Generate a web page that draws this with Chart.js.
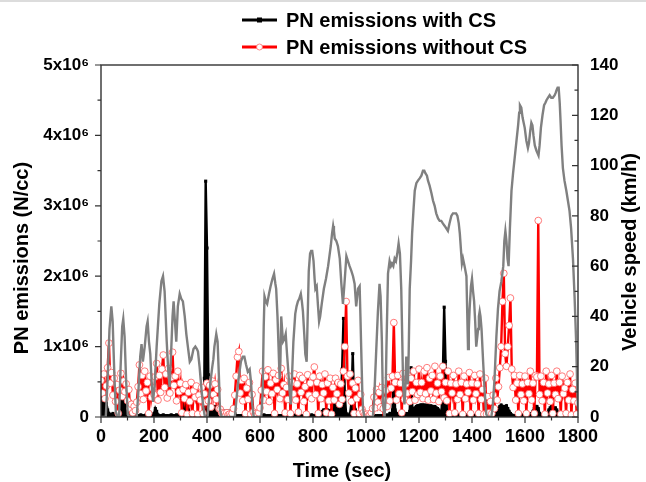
<!DOCTYPE html>
<html>
<head>
<meta charset="utf-8">
<title>PN emissions and vehicle speed</title>
<script src="https://cdn.jsdelivr.net/npm/chart.js@4.4.0/dist/chart.umd.min.js"></script>
<style>
  html, body { margin: 0; padding: 0; background: #ffffff; }
  #wrap { position: relative; width: 646px; height: 482px; }
</style>
</head>
<body>
<div id="wrap"><canvas id="chart" width="646" height="482"></canvas></div>
<script>
// vehicle speed trace (sec, km/h)
const speedTime = [
  0, 18, 25, 32, 39, 44, 50, 56, 62, 68,
  74, 80, 84, 89, 95, 101, 108, 135, 142, 148,
  153, 158, 165, 172, 176, 181, 186, 191, 196, 202,
  210, 220, 228, 234, 240, 248, 254, 259, 264, 270,
  274, 279, 284, 290, 297, 303, 309, 316, 322, 329,
  335, 341, 349, 356, 362, 366, 372, 380, 386, 392,
  402, 407, 413, 420, 424, 428, 435, 440, 445, 449,
  455, 505, 512, 520, 528, 535, 541, 547, 554, 561,
  566, 571, 576, 605, 610, 614, 617, 622, 627, 634,
  640, 647, 653, 658, 661, 666, 670, 674, 677, 680,
  684, 687, 692, 697, 702, 707, 712, 716, 720, 726,
  733, 738, 743, 748, 754, 758, 762, 767, 771, 776,
  780, 784, 789, 793, 797, 802, 806, 809, 814, 819,
  823, 827, 833, 841, 849, 857, 862, 867, 872, 876,
  879, 882, 888, 894, 901, 907, 913, 918, 926, 932,
  938, 945, 951, 957, 963, 967, 970, 976, 979, 982,
  986, 989, 994, 1026, 1032, 1038, 1045, 1051, 1055, 1060,
  1064, 1070, 1074, 1077, 1083, 1089, 1094, 1098, 1103, 1108,
  1113, 1118, 1123, 1128, 1133, 1137, 1140, 1145, 1148, 1152,
  1155, 1158, 1161, 1165, 1170, 1174, 1179, 1184, 1190, 1196,
  1203, 1209, 1215, 1220, 1224, 1230, 1234, 1240, 1247, 1253,
  1259, 1265, 1272, 1278, 1284, 1290, 1297, 1303, 1309, 1315,
  1322, 1328, 1335, 1340, 1345, 1350, 1354, 1358, 1362, 1366,
  1372, 1379, 1385, 1388, 1391, 1396, 1400, 1404, 1408, 1412,
  1416, 1420, 1423, 1426, 1429, 1432, 1436, 1442, 1448, 1454,
  1460, 1473, 1478, 1485, 1492, 1498, 1504, 1511, 1518, 1522,
  1526, 1530, 1534, 1538, 1543, 1549, 1555, 1561, 1568, 1574,
  1578, 1581, 1586, 1591, 1599, 1605, 1611, 1615, 1620, 1624,
  1628, 1632, 1637, 1643, 1647, 1651, 1655, 1660, 1666, 1672,
  1677, 1681, 1687, 1693, 1699, 1705, 1712, 1716, 1719, 1723,
  1727, 1731, 1734, 1738, 1743, 1749, 1756, 1762, 1768, 1774,
  1781, 1787, 1793, 1797, 1800
];
const speedKmh = [
  0, 0, 15, 35, 44, 38, 18, 2, 0, 0,
  20, 36, 39, 32, 14, 1, 0, 0, 12, 24,
  29, 22, 28, 36, 38, 30, 25, 14, 6, 12,
  28, 45, 54, 56, 50, 30, 18, 12, 24, 40,
  46, 38, 30, 44, 49, 47, 46, 40, 33, 27,
  22, 23, 27, 28, 27, 26, 20, 10, 4, 0,
  0, 6, 14, 20, 23, 28, 33, 30, 16, 3,
  0, 0, 8, 16, 22, 24, 24, 21, 18, 19,
  14, 5, 0, 0, 10, 36, 48, 46, 45, 49,
  52, 55, 57, 53, 51, 40, 28, 15, 22, 40,
  34, 30, 31, 33, 25, 18, 10, 5, 14, 30,
  41, 44, 46, 47, 49, 46, 42, 33, 25, 22,
  40, 58, 65, 66, 66, 62, 55, 51, 52, 44,
  38, 40, 45, 51, 55, 60, 64, 68, 73, 76,
  74, 71, 70, 68, 63, 53, 45, 52, 64, 62,
  60, 58, 56, 53, 44, 48, 51, 52, 40, 27,
  10, 3, 0, 0, 10, 25, 42, 53, 48, 30,
  5, 0, 8, 27, 57, 62, 60, 61, 60, 63,
  62, 65, 69, 65, 51, 30, 13, 5, 10, 24,
  18, 13, 25, 51, 62, 73, 82, 90, 93, 94,
  95, 96, 98, 98, 97, 96, 94, 92, 89, 86,
  84, 81, 79, 78, 78, 77, 76, 75, 74, 77,
  80, 81, 81, 81, 80, 77, 73, 67, 61, 63,
  60, 56, 27, 35, 43, 52, 55, 50, 46, 38,
  28, 32, 35, 40, 42, 40, 35, 22, 10, 1,
  0, 0, 4, 15, 32, 43, 50, 54, 60, 70,
  74, 70, 63, 60, 75, 90, 97, 103, 110, 116,
  121, 124, 123, 119, 115, 110, 107, 109, 114, 117,
  116, 112, 108, 106, 105, 104, 108, 115, 120, 124,
  125, 126, 127, 128, 127, 127, 128, 129, 130, 131,
  131, 125, 118, 108, 99, 94, 90, 86, 82, 75,
  63, 48, 30, 12, 3
];

// PN samples every 5 s from t = 0, values in units of 1e5 N/cc
const pnStep = 5;
const pnUnit = 1e5;
const pnWithCS = [
  4.8, 4, 3.2, 2.5, 2, 1, 0.5, 0.3, 0.3, 0.5, 0.3, 0.2, 0.5, 2.2, 2.6, 2.8, 2.5, 2.8, 2.6, 2.5,
  2.8, 2.4, 1.8, 0.5, 0.2, 0.1, 0.1, 0.2, 0.1, 0.2, 0.3, 0.2, 0.1, 0.2, 0.3, 0.1, 0.2, 0.1, 0.2, 0.3,
  0.5, 1.2, 0.8, 0.3, 0.2, 0.1, 0.2, 0.3, 0.2, 0.1, 0.2, 0.1, 0.2, 0.3, 0.2, 0.1, 0.2, 0.3, 0.2, 0.1,
  0.2, 0.5, 1.5, 2.2, 2.4, 2, 1, 0.3, 0.2, 0.1, 0.2, 0.1, 0.2, 0.1, 0.2, 0.3, 0.2, 0.3, 5.5, 33.5,
  24, 6, 2, 1.5, 1.2, 1.5, 1.4, 1.5, 1.2, 1, 1, 0.8, 0.8, 0.8, 0.8, 0.8, 0.8, 0.8, 0.8, 0.8,
  0.8, 0.5, 0.2, 0.1, 0.2, 0.1, 0.2, 0.1, 0.2, 0.3, 0.2, 0.1, 0.2, 0.1, 0.2, 0.1, 0.2, 0.1, 0.2, 0.1,
  0.2, 0.1, 0.2, 0.3, 0.2, 0.1, 0.2, 0.1, 0.2, 0.1, 0.2, 0.3, 0.2, 0.1, 0.2, 0.1, 0.2, 0.1, 0.2, 0.1,
  0.2, 0.1, 0.2, 0.1, 0.2, 0.3, 0.2, 0.1, 0.2, 0.1, 0.2, 0.1, 0.2, 0.1, 0.2, 0.1, 0.2, 0.1, 0.2, 0.3,
  0.2, 0.1, 0.2, 0.1, 0.2, 0.3, 0.5, 0.8, 1, 1, 0.8, 1, 0.9, 0.8, 1, 1.2, 2.9, 3, 2.8, 3,
  2.9, 2.5, 6.8, 14, 3, 0.5, 0.3, 0.2, 0.5, 2, 9, 2, 1, 0.5, 0.3, 0.2, 0.1, 0.1, 0.1, 0.1,
  0.1, 0.1, 0.1, 0.1, 0.1, 0.2, 0.1, 0.2, 0.1, 0.2, 0.1, 0.2, 0.1, 0.2, 0.1, 0.2, 0.3, 0.2, 0.5, 0.3,
  1, 5.7, 1, 0.5, 0.3, 0.2, 0.5, 0.4, 0.5, 0.4, 0.5, 0.3, 0.5, 0.8, 7, 1, 1.2, 1.3, 1.5, 1.6,
  1.6, 1.7, 1.7, 1.7, 1.7, 1.6, 1.7, 1.6, 1.5, 1.6, 1.5, 1.4, 1.5, 1.3, 1.2, 1, 0.8, 0.6, 6, 15.6,
  7.9, 1, 0.5, 0.3, 0.2, 0.1, 0.2, 0.1, 0.2, 0.3, 0.2, 0.1, 0.2, 0.1, 0.2, 0.3, 0.2, 0.1, 0.2, 0.1,
  0.2, 0.1, 0.2, 0.3, 0.2, 0.1, 0.2, 0.1, 0.2, 0.1, 0.2, 0.1, 0.2, 0.1, 0.2, 0.1, 0.2, 0.5, 0.8, 1,
  1.2, 1.5, 1.7, 1.5, 1.5, 1.4, 1.6, 1.2, 0.8, 0.5, 0.3, 0.2, 0.1, 0.2, 0.1, 0.2, 0.1, 0.2, 0.3, 0.2,
  0.1, 0.2, 0.1, 0.2, 0.3, 0.5, 0.8, 1.2, 1.5, 1.5, 1.2, 0.5, 0.3, 0.2, 0.1, 0.2, 0.3, 0.5, 1, 1.3,
  1.5, 1.4, 1.2, 1.3, 1, 0.6, 0.3, 0.2, 0.1, 0.2, 0.1, 0.2, 0.1, 0.2, 0.1, 0.2, 0.1, 0.2, 0.1, 0.2,
  0.1
];
const pnWithoutCS = [
  5.2, 3.4, 6.1, 2.6, 4.4, 7, 10.5, 4.8, 6.3, 3.1, 5.5, 2.2, 4.6, 0.5, 3.8, 6.2, 2.9, 5.1, 3.6, 4.7,
  2.3, 3.9, 1.2, 1.8, 0.6, 1.5, 0.9, 2.1, 4.3, 7.4, 3.3, 5.9, 2.5, 6.5, 3.7, 4.9, 0.5, 5.8, 2.8, 4.1,
  3.2, 5.7, 7.6, 2.4, 5.9, 3.5, 6.8, 8.8, 4.2, 6.1, 2.7, 6.9, 3.4, 5.6, 9.2, 4.5, 5.8, 2.3, 6.5, 3.6,
  4.8, 0.6, 3.9, 2.6, 4.6, 0.4, 3.5, 2.2, 4.9, 0.5, 3.7, 2.8, 4.4, 0.4, 3.1, 2.4, 4.2, 0.5, 3.3, 2.1,
  4.8, 2.3, 4.5, 1.4, 5.1, 3.2, 4.7, 2.5, 3.9, 1.2, 1.1, 0.6, 0.3, 0.5, 0.2, 0.6, 0.3, 0.4, 0.2, 0.5,
  1.2, 3.1, 5.8, 8.5, 9.3, 3.4, 5.2, 2.3, 5.5, 0.5, 4.1, 2.5, 4.9, 0.4, 3.2, 0.7, 0.3, 0.5, 0.3, 0.6,
  1.3, 3.8, 6.5, 2.4, 5.7, 3.6, 6.7, 2.2, 4.8, 3.3, 6.2, 0.5, 5.3, 3.9, 5.9, 2.6, 6.9, 3.4, 4.6, 0.6,
  4.2, 2.5, 5.8, 0.5, 4.9, 3.3, 6.1, 2.4, 4.7, 0.7, 5.9, 3.5, 5.5, 2.2, 4.3, 0.4, 6, 3.1, 4.8, 2.6,
  5.7, 7.1, 3.2, 4.9, 0.5, 5.8, 2.6, 4.6, 3.4, 6.1, 0.6, 4.8, 2.3, 5.5, 0.4, 4.2, 2.4, 5.5, 3.3, 4.9,
  1.8, 4.7, 2.5, 6.5, 10, 16.4, 5.8, 3.4, 6.1, 2.2, 4.8, 0.5, 4.1, 2.6, 5.2, 0.5, 3.2, 1.1, 0.6, 0.3,
  0.2, 0.4, 0.2, 0.3, 0.6, 1.2, 2.8, 1.3, 3.9, 2.1, 3.5, 1.4, 4.2, 1.2, 2.4, 3.8, 1.5, 5.6, 2.3, 4.1,
  5.8, 13.4, 4.9, 2.4, 5.9, 3.3, 4.8, 0.6, 6.2, 2.5, 4.7, 3.4, 5.8, 2.2, 5.5, 3.6, 6.5, 2.4, 4.9, 3.2,
  6.8, 3.5, 4.9, 2.6, 6.5, 3.3, 7, 2.4, 5.5, 3.7, 5.9, 2.5, 7.2, 3.4, 4.8, 2.2, 5.8, 3.6, 7.2, 2.7,
  4.9, 2.3, 6.5, 0.5, 4.8, 3.4, 5.9, 0.6, 4.7, 2.5, 6.5, 3.2, 4.9, 0.4, 5.8, 2.6, 4.7, 3.5, 6.3, 0.5,
  4.8, 2.4, 5.9, 3.3, 4.7, 0.5, 6.1, 2.5, 3.9, 0.4, 5.5, 0.4, 2.9, 0.6, 2.2, 0.5, 3.1, 1.2, 5.5, 2.4,
  4.3, 7, 10, 16.4, 20.4, 9, 7.2, 10, 13, 16.9, 6.8, 4.2, 5.9, 2.4, 4.8, 0.5, 5.9, 3.2, 4.7, 2.3,
  5.8, 0.5, 4.9, 3.3, 6.5, 2.4, 4.8, 0.5, 5.9, 5.7, 27.9, 3.2, 5.8, 2.3, 4.9, 0.4, 6.5, 3.4, 4.7, 2.2,
  5.9, 0.5, 4.8, 3.2, 6.5, 2.6, 4.9, 0.4, 5.8, 3.3, 4.1, 0.5, 4.9, 2.4, 6.1, 0.3, 3.9, 2.3, 4.8, 0.4,
  2
];

// tick labels
const timeTicks = [0, 200, 400, 600, 800, 1000, 1200, 1400, 1600, 1800];
const pnTicks = [0, 1, 2, 3, 4, 5];            // x10^6
const speedTicks = [0, 20, 40, 60, 80, 100, 120, 140];

const legendNames = ['PN emissions with CS', 'PN emissions without CS'];

const toPoints = (vals) => vals.map((v, i) => ({ x: i * pnStep, y: v * pnUnit }));
const speedPoints = speedTime.map((t, i) => ({ x: t, y: speedKmh[i] }));

const FONT = '"Liberation Sans", Arial, Helvetica, sans-serif';

// frame, inward/outward ticks, axis titles and the two-row legend
const decorations = {
  id: 'decorations',
  beforeDraw(chart) {
    const ctx = chart.ctx;
    ctx.save();
    ctx.fillStyle = '#dcdcdc';
    ctx.fillRect(0, 0, chart.width, 2);
    ctx.restore();
  },
  afterDraw(chart) {
    const { ctx, chartArea: a, scales } = chart;
    ctx.save();

    ctx.strokeStyle = '#333333';
    ctx.lineWidth = 1.4;
    ctx.strokeRect(a.left, a.top, a.right - a.left, a.bottom - a.top);

    ctx.lineWidth = 1.2;
    ctx.beginPath();
    for (let v = 0; v <= 1800; v += 100) {
      const px = scales.x.getPixelForValue(v);
      const len = timeTicks.includes(v) ? 6 : 3.5;
      ctx.moveTo(px, a.bottom);
      ctx.lineTo(px, a.bottom + len);
    }
    for (let v = 0; v <= 5; v += 0.5) {
      const py = scales.y.getPixelForValue(v * 1e6);
      const len = pnTicks.includes(v) ? 6 : 3.5;
      ctx.moveTo(a.left, py);
      ctx.lineTo(a.left - len, py);
    }
    for (let v = 0; v <= 140; v += 10) {
      const py = scales.y1.getPixelForValue(v);
      const len = speedTicks.includes(v) ? 6 : 3.5;
      ctx.moveTo(a.right, py);
      ctx.lineTo(a.right - len, py);
    }
    ctx.stroke();

    // axis titles
    ctx.fillStyle = '#000000';
    ctx.font = 'bold 20px ' + FONT;
    ctx.textAlign = 'center';
    ctx.textBaseline = 'middle';
    ctx.fillText('Time (sec)', 342, 471);

    ctx.save();
    ctx.translate(22, 258);
    ctx.rotate(-Math.PI / 2);
    ctx.fillText('PN emissions (N/cc)', 0, 0);
    ctx.restore();

    ctx.save();
    ctx.translate(630, 252);
    ctx.rotate(-Math.PI / 2);
    ctx.fillText('Vehicle speed (km/h)', 0, 0);
    ctx.restore();

    // legend
    const rows = [20, 47];
    ctx.textAlign = 'left';
    rows.forEach((y, i) => {
      ctx.beginPath();
      ctx.lineWidth = 3;
      ctx.strokeStyle = i === 0 ? '#000000' : '#ff0000';
      ctx.moveTo(242, y);
      ctx.lineTo(277, y);
      ctx.stroke();
      if (i === 0) {
        ctx.fillStyle = '#000000';
        ctx.fillRect(257, y - 2.5, 5, 5);
      } else {
        ctx.beginPath();
        ctx.fillStyle = '#ffffff';
        ctx.strokeStyle = '#ff6a6a';
        ctx.lineWidth = 0.8;
        ctx.arc(259.5, y, 3, 0, Math.PI * 2);
        ctx.fill();
        ctx.stroke();
      }
      ctx.fillStyle = '#000000';
      ctx.fillText(legendNames[i], 286, y + 1);
    });

    ctx.restore();
  }
};

const tickFont = { family: FONT, size: 17, weight: 'bold' };

new Chart(document.getElementById('chart'), {
  type: 'line',
  data: {
    datasets: [
      {
        label: legendNames[0],
        data: toPoints(pnWithCS),
        yAxisID: 'y',
        borderColor: '#000000',
        backgroundColor: '#000000',
        fill: 'origin',
        borderWidth: 2.4,
        pointStyle: 'rect',
        pointRadius: 2.2,
        pointBackgroundColor: '#000000',
        pointBorderColor: '#000000',
        pointBorderWidth: 0,
        tension: 0,
        order: 2
      },
      {
        label: legendNames[1],
        data: toPoints(pnWithoutCS),
        yAxisID: 'y',
        borderColor: '#ff0000',
        borderWidth: 2.4,
        pointStyle: 'circle',
        pointRadius: 3.4,
        pointBackgroundColor: '#ffffff',
        pointBorderColor: '#ff5a5a',
        pointBorderWidth: 0.8,
        tension: 0,
        order: 1
      },
      {
        label: 'Vehicle speed',
        data: speedPoints,
        yAxisID: 'y1',
        borderColor: '#808080',
        borderWidth: 2.4,
        pointRadius: 0,
        tension: 0,
        order: 0
      }
    ]
  },
  options: {
    responsive: false,
    animation: false,
    events: [],
    layout: { padding: { top: 65, left: 0, right: 0, bottom: 0 } },
    plugins: {
      legend: { display: false },
      tooltip: { enabled: false }
    },
    scales: {
      x: {
        type: 'linear',
        min: 0,
        max: 1800,
        border: { display: false },
        grid: { display: false, drawTicks: false },
        ticks: {
          stepSize: 100,
          autoSkip: false,
          maxRotation: 0,
          padding: 9,
          color: '#000000',
          font: { family: FONT, size: 18, weight: 'bold' },
          callback: (v) => (timeTicks.includes(v) ? String(v) : '')
        },
        afterFit: (scale) => { scale.height = 65; }
      },
      y: {
        position: 'left',
        min: 0,
        max: 5e6,
        border: { display: false },
        grid: { display: false, drawTicks: false },
        ticks: {
          stepSize: 5e5,
          autoSkip: false,
          padding: 12,
          color: '#000000',
          font: tickFont,
          callback: (v) => {
            const m = v / 1e6;
            if (!pnTicks.includes(m)) return '';
            return m === 0 ? '0' : m + 'x10\u2076';
          }
        },
        afterFit: (scale) => { scale.width = 101; }
      },
      y1: {
        position: 'right',
        min: 0,
        max: 140,
        border: { display: false },
        grid: { display: false, drawTicks: false },
        ticks: {
          stepSize: 10,
          autoSkip: false,
          padding: 12,
          color: '#000000',
          font: tickFont,
          callback: (v) => (speedTicks.includes(v) ? String(v) : '')
        },
        afterFit: (scale) => { scale.width = 68; }
      }
    }
  },
  plugins: [decorations]
});
</script>
</body>
</html>
